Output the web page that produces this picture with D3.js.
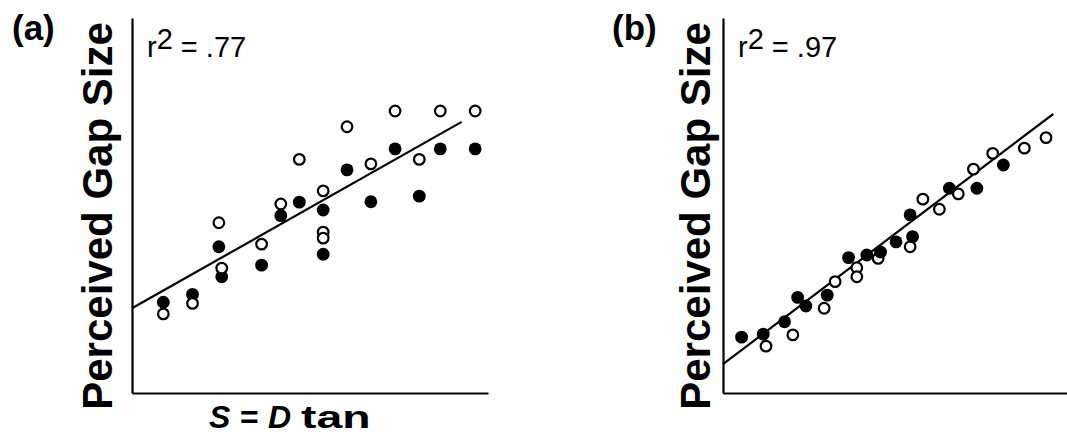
<!DOCTYPE html>
<html>
<head>
<meta charset="utf-8">
<script src="https://d3js.org/d3.v7.min.js"></script>
<style>
  body { margin: 0; background: #fff; }
  svg { display: block; }
</style>
</head>
<body>
<div id="vis"></div>
<script>
// values, both axes in arbitrary 0-100 units

// panel (a)
let aFilledX = [8.8, 17.0, 24.4, 25.2, 36.4, 41.8, 47.0, 53.7, 53.7, 60.4, 67.1, 73.9, 80.7, 86.6, 96.4];
let aFilledY = [24.2, 26.3, 39.0, 31.0, 34.1, 47.3, 50.9, 48.8, 37.0, 59.5, 51.0, 65.1, 52.5, 65.1, 65.1];
let aOpenX = [8.8, 17.0, 24.4, 25.2, 36.4, 41.8, 47.0, 53.7, 53.7, 53.7, 60.4, 67.1, 73.9, 80.7, 86.6, 96.4];
let aOpenY = [21.1, 23.9, 45.4, 33.3, 39.7, 50.4, 62.3, 53.9, 42.9, 41.3, 71.0, 61.1, 75.2, 62.3, 75.2, 75.2];
let aFitX = [0, 92.6];
let aFitY = [22.6, 72.3];

// panel (b)
let bFilledX = [5.4, 11.7, 17.9, 21.7, 24.1, 30.3, 36.5, 41.8, 45.8, 50.3, 54.4, 55.1, 65.8, 73.8, 81.5];
let bFilledY = [14.9, 15.7, 19.0, 25.5, 23.2, 26.1, 36.1, 36.8, 37.6, 40.3, 47.5, 41.7, 54.6, 54.6, 60.8];
let bOpenX = [12.5, 20.3, 29.4, 32.6, 38.9, 38.9, 45.1, 54.4, 58.1, 62.9, 68.4, 72.8, 78.4, 87.6, 93.9];
let bOpenY = [12.5, 15.5, 22.6, 29.7, 33.4, 31.0, 35.9, 39.0, 51.7, 49.0, 53.1, 59.7, 63.9, 65.3, 68.1];
let bFitX = [0, 96.0];
let bFitY = [7.7, 74.4];

let width = 1067,
  height = 435;

let svg = d3.select('#vis')
  .append('svg')
  .attr('width', width)
  .attr('height', height)
  .style('background-color', '#fff');

let font = "'Liberation Sans', Arial, Helvetica, sans-serif";

function zip(xs, ys) {
  return xs.map((x, i) => [x, ys[i]]);
}

// draws one panel
function panel(opt) {
  let xScale = d3.scaleLinear().domain([0, 100]).range([opt.left, opt.right]),
    yScale = d3.scaleLinear().domain([0, 100]).range([393, 18]);

  let g = svg.append('g');

  // axes: just the two lines, no ticks
  g.append('g')
    .attr('transform', 'translate(0,393)')
    .call(d3.axisBottom(xScale).ticks(0).tickSize(0))
    .call(a => a.select('.domain').attr('stroke-width', 2.2).attr('stroke', '#000'));
  g.append('g')
    .attr('transform', 'translate(' + opt.left + ',0)')
    .call(d3.axisLeft(yScale).ticks(0).tickSize(0))
    .call(a => a.select('.domain').attr('stroke-width', 2.2).attr('stroke', '#000'));

  // regression line
  g.append('path')
    .datum(zip(opt.fitX, opt.fitY))
    .attr('fill', 'none')
    .attr('stroke', '#000')
    .attr('stroke-width', 2.2)
    .attr('d', d3.line().x(d => xScale(d[0])).y(d => yScale(d[1])));

  let filled = function () {
    g.append('g')
      .selectAll('circle')
      .data(zip(opt.filledX, opt.filledY))
      .enter()
      .append('circle')
      .attr('cx', d => xScale(d[0]))
      .attr('cy', d => yScale(d[1]))
      .attr('r', 6.4)
      .style('fill', '#000');
  };
  let open = function () {
    g.append('g')
      .selectAll('circle')
      .data(zip(opt.openX, opt.openY))
      .enter()
      .append('circle')
      .attr('cx', d => xScale(d[0]))
      .attr('cy', d => yScale(d[1]))
      .attr('r', 5.3)
      .style('fill', '#fff')
      .style('stroke', '#000')
      .style('stroke-width', 2.2);
  };
  if (opt.openOnTop) { filled(); open(); } else { open(); filled(); }

  // y label
  g.append('text')
    .attr('text-anchor', 'middle')
    .attr('transform', 'translate(' + opt.labelX + ',216)rotate(-90)')
    .style('font-family', font)
    .style('font-weight', 'bold')
    .style('font-size', '42px')
    .text('Perceived Gap Size');

  // panel letter
  g.append('text')
    .attr('x', opt.letterX)
    .attr('y', 40)
    .style('font-family', font)
    .style('font-weight', 'bold')
    .style('font-size', '35px')
    .text(opt.letter);

  // r squared
  let r2 = g.append('text')
    .attr('x', opt.left + 15)
    .attr('y', 57)
    .style('font-family', font)
    .style('font-size', '29px');
  r2.append('tspan').text('r');
  r2.append('tspan').attr('dy', -8).text('2');
  r2.append('tspan').attr('dy', 8).text(' = ' + opt.r2);
}

panel({
  left: 132, right: 488, labelX: 112, letterX: 12, letter: '(a)', r2: '.77',
  filledX: aFilledX, filledY: aFilledY, openX: aOpenX, openY: aOpenY,
  fitX: aFitX, fitY: aFitY, openOnTop: true
});

panel({
  left: 723, right: 1067, labelX: 710, letterX: 612, letter: '(b)', r2: '.97',
  filledX: bFilledX, filledY: bFilledY, openX: bOpenX, openY: bOpenY,
  fitX: bFitX, fitY: bFitY, openOnTop: false
});

// x label of panel (a); spaced out, "tan" is drawn wider in the original
let xl = svg.append('text')
  .attr('y', 428)
  .style('font-family', font)
  .style('font-weight', 'bold')
  .style('font-size', '32px');
xl.append('tspan').attr('x', 209).style('font-style', 'italic').text('S');
xl.append('tspan').attr('x', 240).text('=');
xl.append('tspan').attr('x', 268).style('font-style', 'italic').text('D');

svg.append('text')
  .attr('transform', 'translate(301,428)scale(1.45,1)')
  .style('font-family', font)
  .style('font-weight', 'bold')
  .style('font-size', '32px')
  .text('tan');
</script>
</body>
</html>
